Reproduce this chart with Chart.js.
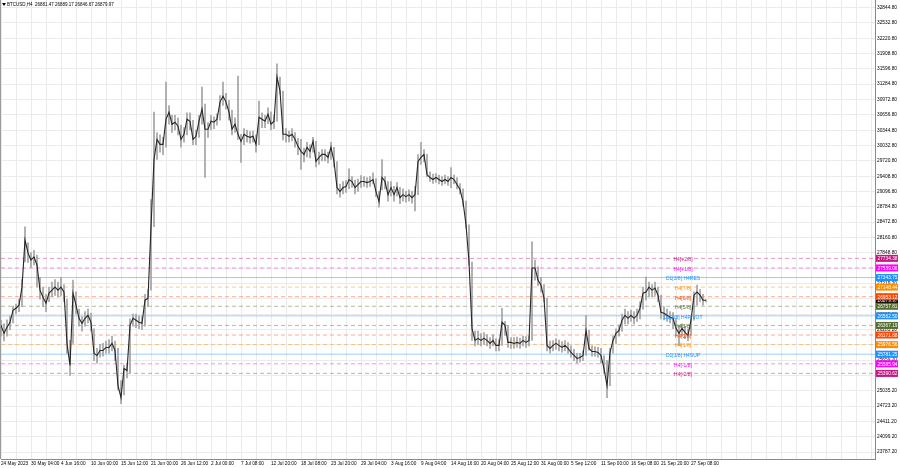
<!DOCTYPE html>
<html><head><meta charset="utf-8">
<script src="https://cdn.jsdelivr.net/npm/chart.js@4.4.0/dist/chart.umd.min.js"></script>
<style>html,body{margin:0;padding:0;background:#fff;}canvas{display:block;}</style>
</head><body>
<canvas id="c" width="900" height="468"></canvas>
<script>
// ---------- DATA ----------
const chartTitle = "BTCUSD,H4  26881.47 26889.17 26846.67 26879.97";
const dateLabels = ["24 May 2023","30 May 04:00","4 Jun 16:00","10 Jun 00:00","15 Jun 12:00","21 Jun 00:00","26 Jun 12:00","2 Jul 00:00","7 Jul 08:00","12 Jul 20:00","18 Jul 08:00","23 Jul 20:00","29 Jul 04:00","3 Aug 16:00","9 Aug 04:00","14 Aug 16:00","20 Aug 04:00","25 Aug 12:00","31 Aug 00:00","5 Sep 12:00","11 Sep 00:00","16 Sep 08:00","21 Sep 20:00","27 Sep 08:00"];
const closes = [
26369,26206,26329,26431,26677,26718,26779,27148,28111,27845,
27702,27763,27599,27087,26943,26820,27025,27087,27148,27087,
27148,27046,26001,25550,27025,26779,26513,26410,26513,26574,
26431,25796,25755,25857,25857,25919,25919,26001,25857,25141,
24895,25489,25448,26369,26513,26472,26431,26410,26882,26923,
28378,29750,30160,30058,30058,30570,30714,30468,30509,30427,
30160,30263,30570,30529,30160,30222,30529,30775,30365,30365,
30529,30509,30570,30919,31041,30919,30714,30365,30468,30263,
30119,30263,30222,30201,30222,30058,30611,30570,30529,30673,
30468,30529,31431,31144,30263,30263,30222,30263,30160,30017,
29915,29853,29997,29915,30119,29709,29791,29853,29853,29791,
29997,29709,29177,29095,29177,29197,29341,29300,29177,29238,
29300,29300,29279,29300,29341,29095,28890,29382,29300,29033,
29177,29033,29177,28972,29033,28993,29033,28972,29033,29709,
29791,29853,29443,29382,29341,29382,29341,29300,29341,29300,
29382,29341,29238,29136,28890,28419,27660,26308,26062,26103,
26062,26103,26062,26001,26062,25960,25960,26431,26369,26021,
26021,26001,26021,26001,26062,26021,26062,27538,27538,27292,
27189,26923,25960,25898,25960,26001,25960,25919,25960,25898,
25816,25755,25694,25714,25755,26267,25898,25837,25837,25816,
25755,25489,25141,25816,26062,26206,26267,26472,26574,26513,
26574,26513,26574,26718,27025,27046,27148,27087,27128,26984,
26636,26615,26574,26533,26513,26308,26206,26308,26226,26165,
26472,26984,27046,26984,26882,26880];
const highs = [
26470,26400,26480,26560,26760,26800,26900,27300,28378,28050,
27850,27900,27800,27350,27150,27000,27150,27250,27300,27250,
27350,27200,26900,26062,27292,27050,26700,26550,26650,26700,
26620,26300,25900,25980,26000,26050,26080,26150,26050,25900,
25243,25560,25600,26500,26600,26600,26560,26550,27000,27100,
28931,30714,30300,30250,30200,31328,30850,30650,30650,30600,
30450,30400,30700,30700,30550,30350,30650,31226,30878,30500,
30650,30620,30680,31050,31328,31100,30950,30750,30600,31451,
30263,30380,30350,30320,30330,30250,30939,30700,30650,30800,
30720,30650,31697,31431,31144,30380,30330,30380,30300,30180,
30160,29980,30100,30050,30200,30119,29900,29950,29950,29900,
30100,29997,29709,29250,29300,29320,29560,29400,29330,29350,
29420,29400,29380,29400,29480,29360,29100,29750,29400,29300,
29300,29200,29280,29180,29150,29100,29130,29100,29200,29850,
30099,29950,29853,29500,29450,29460,29430,29400,29430,29400,
29586,29430,29380,29260,29150,28900,28419,27660,26250,26250,
26200,26220,26180,26120,26180,26100,26080,26718,26450,26369,
26120,26120,26130,26110,26150,26140,26150,28070,27700,27560,
27350,27200,26923,26050,26060,26100,26070,26040,26060,26020,
25950,25880,25800,25800,25850,26574,26267,25950,25930,25920,
25900,25755,25653,25900,26150,26300,26380,26600,26700,26650,
26680,26650,26700,26850,27150,27353,27250,27200,27250,27150,
26984,26750,26700,26650,26630,26513,26369,26400,26350,26300,
26550,27050,27189,27100,27000,26889];
const lows = [
26150,26050,26150,26280,26420,26600,26650,26750,27660,27650,
27550,27600,27150,26900,26750,26650,26850,26950,26980,26950,
26980,26850,25800,25346,26000,26600,26350,26250,26350,26420,
26250,25650,25600,25720,25740,25800,25800,25850,25650,25050,
24772,24950,25300,25400,26350,26320,26300,26280,26350,26750,
27087,28378,29750,29900,29850,30000,30468,30300,30350,30250,
30000,30100,30250,30350,30050,30050,30200,30468,29382,30200,
30350,30380,30450,30550,30850,30780,30550,30250,30300,30160,
29689,30050,30100,30080,30100,29900,30050,30400,30400,30480,
30350,30380,30529,31082,30150,30100,30100,30130,30000,29850,
29546,29700,29800,29780,29900,29600,29650,29720,29720,29680,
29750,29600,29050,28980,29050,29080,29150,29180,29050,29100,
29180,29200,29180,29200,29250,28990,28780,29136,29150,28900,
29000,28900,29000,28850,28900,28880,28900,28860,28700,29033,
29648,29700,29400,29300,29260,29280,29250,29220,29250,29220,
29177,29250,29150,29050,28800,28350,27600,26062,25950,25980,
25950,25980,25950,25900,25950,25850,25850,25960,26165,25920,
25900,25900,25920,25900,25950,25920,25950,26062,27292,27180,
27050,26850,25850,25800,25850,25880,25850,25820,25850,25800,
25720,25650,25600,25620,25650,25755,25857,25740,25740,25720,
25600,25400,24895,25141,25800,26000,26150,26250,26400,26400,
26450,26400,26450,26500,26700,26882,26950,26950,26980,26850,
26500,26480,26450,26420,26300,26150,25960,26150,26100,26050,
26165,26472,26779,26850,26780,26847];
const priceTicks = [32844.80,32532.80,32220.80,31908.80,31596.80,31284.80,30972.80,30656.80,30344.80,30032.80,29720.80,29408.80,29096.80,28784.80,28472.80,28160.80,27848.80,27531.20,27219.20,26907.20,26595.20,26283.20,25971.20,25659.20,25347.20,25035.20,24723.20,24411.20,24099.20,23787.20];
const levelNames  = ["H4[+2/8]","H4[+1/8]","D1[3/8] H4RES","H4[7/8]","H4[6/8]","H4[5/8]","D1[2/8] H4PIVOT","H4[3/8]","H4[2/8]","H4[1/8]","D1[1/8] H4SUP","H4[-1/8]","H4[-2/8]"];
const levelValues = [27734.38,27539.06,27343.75,27148.44,26953.12,26757.81,26562.50,26367.19,26171.88,25976.56,25781.25,25585.94,25390.62];
const currentPrice = 26879.97;

// ---------- STYLE ----------
const levelKinds = ["mvr","mag","blue","orange","red","olive","blue","olive","red","orange","blue","mag","mvr"];
const kindStyle = {
  mvr:    {c:"199,21,133",  dash:[4,3]},
  mag:    {c:"255,0,255",   dash:[4,3]},
  blue:   {c:"30,144,255",  dash:[]},
  orange: {c:"255,140,0",   dash:[4,3]},
  red:    {c:"255,69,0",    dash:[4,3]},
  olive:  {c:"85,107,47",   dash:[4,3]}
};
const FONT = "'Liberation Sans', Arial, sans-serif";
const X_MIN = 0, X_MAX = 291.33;

const datasets = [];
datasets.push({
  type:'line', label:'close',
  data: closes.map((v,i)=>({x:i,y:v})),
  borderColor:'#262626', borderWidth:1.1, pointRadius:0, tension:0
});
datasets.push({
  type:'bar', label:'range',
  data: closes.map((v,i)=>({x:i,y:[lows[i],highs[i]]})),
  backgroundColor:'#a3a3a3', barThickness:1, grouped:false
});
levelValues.forEach((v,k)=>{
  const st = kindStyle[levelKinds[k]];
  datasets.push({
    type:'line', label:levelNames[k],
    data:[{x:X_MIN,y:v},{x:X_MAX,y:v}],
    borderColor:`rgba(${st.c},0.45)`, borderWidth:1, borderDash:st.dash,
    pointRadius:0
  });
});

const overlay = {
  id:'overlay',
  afterDraw(chart){
    const ctx = chart.ctx, ys = chart.scales.y, area = chart.chartArea;
    ctx.save();
    ctx.strokeStyle = '#9a9a9a'; ctx.lineWidth = 1;
    ctx.beginPath(); ctx.moveTo(0.5,0); ctx.lineTo(0.5,area.bottom); ctx.stroke();
    // title
    ctx.fillStyle = '#000';
    ctx.beginPath(); ctx.moveTo(2,3); ctx.lineTo(6,3); ctx.lineTo(4,6); ctx.closePath(); ctx.fill();
    ctx.font = `4.5px ${FONT}`; ctx.textBaseline = 'middle'; ctx.textAlign = 'left';
    ctx.fillText(chartTitle, 7, 5);
    // in-chart level labels
    ctx.font = `5px ${FONT}`;
    ctx.textAlign = 'center';
    levelValues.forEach((v,k)=>{
      const st = kindStyle[levelKinds[k]];
      const y = ys.getPixelForValue(v);
      ctx.fillStyle = `rgb(${st.c})`;
      ctx.fillText(levelNames[k], 683, y + 1.5);
    });
    // current price box then level boxes
    ctx.font = `4.8px ${FONT}`;
    const boxX = area.right + 1, boxW = 22, boxH = 7;
    let y = ys.getPixelForValue(currentPrice);
    ctx.fillStyle = '#000'; ctx.fillRect(boxX, y-boxH/2, boxW, boxH);
    ctx.fillStyle = '#fff'; ctx.textAlign = 'left';
    ctx.fillText(currentPrice.toFixed(2), boxX+1.5, y+0.5);
    levelValues.forEach((v,k)=>{
      const st = kindStyle[levelKinds[k]];
      const yy = ys.getPixelForValue(v);
      ctx.fillStyle = `rgb(${st.c})`; ctx.fillRect(boxX, yy-boxH/2, boxW, boxH);
      ctx.fillStyle = '#fff'; ctx.fillText(v.toFixed(2), boxX+1.5, yy+0.5);
    });
    ctx.restore();
  }
};

new Chart(document.getElementById('c'), {
  type:'line',
  data:{datasets},
  options:{
    responsive:false, animation:false, events:[],
    layout:{padding:{left:1,top:0,right:0,bottom:0}},
    plugins:{legend:{display:false}, tooltip:{enabled:false}},
    scales:{
      x:{
        type:'linear', min:X_MIN, max:X_MAX, position:'bottom', offset:false,
        grid:{color:'#ebebeb', lineWidth:1, drawTicks:false, offset:false},
        border:{display:true, color:'#8a8a8a'},
        afterBuildTicks(axis){
          const t=[]; for(let v=0; v<=290; v+=5) t.push({value:v}); axis.ticks=t;
        },
        ticks:{
          autoSkip:false, maxRotation:0, align:'start', padding:2, color:'#000',
          font:{size:4.7, family:FONT},
          callback(v){ return (v%10===0 && v/10<dateLabels.length) ? dateLabels[v/10] : ''; }
        },
        afterFit(axis){ axis.height = 9; axis.paddingLeft=0; axis.paddingRight=0; }
      },
      y:{
        type:'linear', position:'right', min:23645, max:33000,
        grid:{color:'#ebebeb', lineWidth:1, drawTicks:false},
        border:{display:true, color:'#8a8a8a'},
        afterBuildTicks(axis){ axis.ticks = priceTicks.map(v=>({value:v})); },
        ticks:{
          padding:2, color:'#000', font:{size:4.8, family:FONT},
          callback(v){ return Number(v).toFixed(2); }
        },
        afterFit(axis){ axis.width = 25; axis.paddingTop=0; axis.paddingBottom=0; }
      }
    }
  },
  plugins:[overlay]
});
</script>
</body></html>
